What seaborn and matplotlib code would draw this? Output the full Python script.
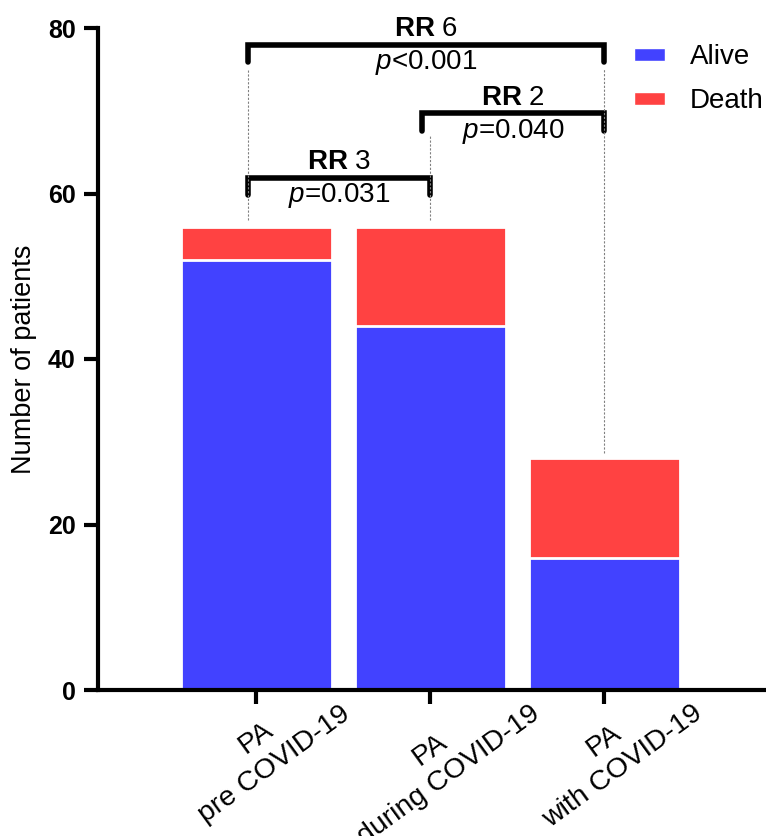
import matplotlib
matplotlib.use("Agg")
import matplotlib.pyplot as plt
import matplotlib.transforms as mtransforms
import seaborn as sns
import pandas as pd
from matplotlib.patches import Patch

# data
groups = ["PA\npre COVID-19", "PA\nduring COVID-19", "PA\nwith COVID-19"]
alive = [52, 44, 16]
death = [4, 12, 12]
totals = [a + d for a, d in zip(alive, death)]

# comparisons: (left bar, right bar, bracket height, RR label, p label)
cmp_left = [0, 1, 0]
cmp_right = [1, 2, 2]
cmp_height = [61.9, 69.7, 78]
cmp_rr = ["3", "2", "6"]
cmp_p = ["=0.031", "=0.040", "<0.001"]

sns.set_style("white")
plt.rcParams["font.family"] = ["Liberation Sans", "DejaVu Sans"]
plt.rcParams["mathtext.fontset"] = "custom"
plt.rcParams["mathtext.rm"] = "Liberation Sans"
plt.rcParams["mathtext.it"] = "Liberation Sans:italic"
plt.rcParams["mathtext.bf"] = "Liberation Sans:bold"
for k in ["text.color", "axes.labelcolor", "xtick.color", "ytick.color"]:
    plt.rcParams[k] = "black"

blue = "#4242FF"
red = "#FF4242"

df = pd.DataFrame({"group": groups, "alive": alive, "total": totals})

fig = plt.figure(figsize=(7.66, 8.36), dpi=100)
ax = fig.add_axes([98 / 766, 146 / 836, 1 - 98 / 766, 662 / 836])

sns.barplot(data=df, x="group", y="total", color=red, width=0.87,
            edgecolor="white", linewidth=2, saturation=1, ax=ax)
sns.barplot(data=df, x="group", y="alive", color=blue, width=0.87,
            edgecolor="white", linewidth=2, saturation=1, ax=ax)

ax.set_xlim(-0.91, 2.93)
ax.set_ylim(0, 80)
ax.set_yticks([0, 20, 40, 60, 80])
ax.set_xlabel("")
ax.set_ylabel("Number of patients", fontsize=19.5, labelpad=8)

for s in ["top", "right"]:
    ax.spines[s].set_visible(False)
for s in ["left", "bottom"]:
    ax.spines[s].set_linewidth(3)
    ax.spines[s].set_color("black")
ax.tick_params(axis="both", length=10, width=3, color="black", direction="out",
               left=True, bottom=True, pad=6)
ax.tick_params(axis="x", pad=-21)
ax.tick_params(axis="y", labelsize=18)
for lab in ax.get_yticklabels():
    lab.set_fontweight("bold")
ax.set_xticks(range(len(groups)))
ax.set_xticklabels(groups, rotation=36, ha="center", fontsize=20.5,
                   multialignment="center", linespacing=1.3)
shift = mtransforms.ScaledTranslation(9 / 100, 0, fig.dpi_scale_trans)
for lab in ax.get_xticklabels():
    lab.set_transform(lab.get_transform() + shift)

# brackets and annotations
off = 0.05
tick_h = 2.1
for l, r, h, rr, p in zip(cmp_left, cmp_right, cmp_height, cmp_rr, cmp_p):
    x0, x1 = l - off, r
    ax.plot([x0, x0, x1, x1], [h - tick_h, h, h, h - tick_h], color="black",
            lw=4, solid_joinstyle="miter", clip_on=False)
    ax.text((x0 + x1) / 2, h + 0.3, r"$\mathbf{RR}$ " + rr, ha="center",
            va="bottom", fontsize=20)
    ax.text((x0 + x1) / 2, h - 0.4, r"$p$" + p, ha="center", va="top",
            fontsize=20)

# dashed guide lines from brackets down to bars
ax.plot([-off, -off], [56.8, 75.0], color="grey", lw=0.8, ls=(0, (2, 1.5)))
ax.plot([1, 1], [56.8, 67.0], color="grey", lw=0.8, ls=(0, (2, 1.5)))
ax.plot([2, 2], [28.6, 75.0], color="grey", lw=0.8, ls=(0, (2, 1.5)))

handles = [Patch(facecolor=blue, label="Alive"), Patch(facecolor=red, label="Death")]
ax.legend(handles=handles, loc="upper left", bbox_to_anchor=(0.765, 1.013),
          frameon=False, fontsize=20, handlelength=1.1, handleheight=0.36,
          labelspacing=0.65, handletextpad=0.9)

fig.savefig("out.png", dpi=100)
